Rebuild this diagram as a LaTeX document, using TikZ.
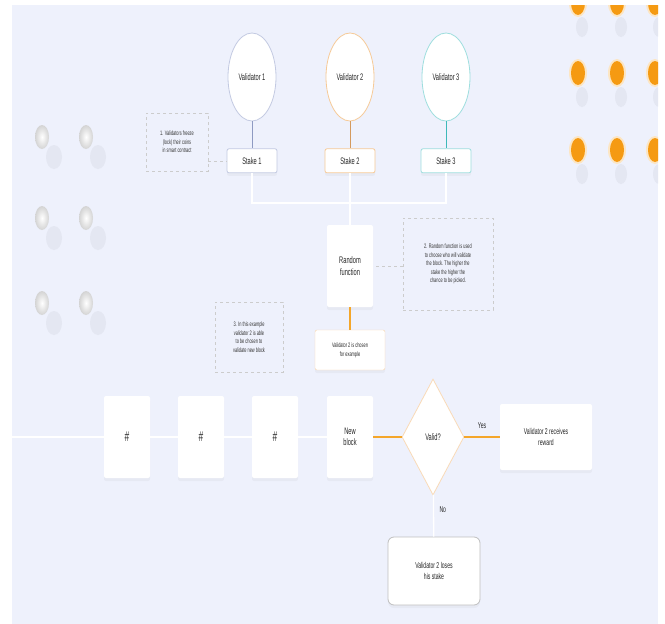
\documentclass[tikz,border=0pt]{standalone}
\usepackage{fontspec}
\setmainfont{Liberation Sans}[FakeStretch=0.6]
\setsansfont{Liberation Sans}[FakeStretch=0.6]
\usetikzlibrary{arrows,shapes,positioning,shadows}
\definecolor{bgcol}{HTML}{EEF1FC}
\definecolor{gold}{HTML}{F4A62A}
\definecolor{dotcol}{HTML}{F59A12}
\definecolor{vone}{HTML}{C3CAE2}
\definecolor{vtwo}{HTML}{F6CA98}
\definecolor{vthree}{HTML}{9EDEDE}
\definecolor{lone}{HTML}{8E9AC2}
\definecolor{ltwo}{HTML}{D49A5E}
\definecolor{lthree}{HTML}{3DB9B9}
\colorlet{dotshadow}{bgcol!96!black}
\tikzset{
  basic/.style    = {font=\sffamily\fontsize{9.5}{11.5}\selectfont, align=center,
                     fill=white, text=black!85},
  soft/.style     = {drop shadow={opacity=0.07, shadow xshift=0pt, shadow yshift=-3pt}},
  validator/.style = {basic, ellipse, draw=#1, line width=0.8pt, inner sep=0pt,
                     minimum width=48pt, minimum height=88pt},
  stakebox/.style = {basic, rectangle, draw=#1, line width=0.8pt, rounded corners=2pt,
                     minimum width=50pt, minimum height=24pt, soft},
  block/.style    = {basic, rectangle, rounded corners=2pt, minimum width=46pt,
                     minimum height=82pt, soft},
  note/.style     = {draw=gray!40, dashed, align=center, inner sep=2pt,
                     font=\sffamily\fontsize{6.5}{8.5}\selectfont, text=black!80},
  wire/.style     = {draw=white, line width=1.3pt},
  goldline/.style = {draw=gold, line width=2.6pt},
}

\begin{document}
\begin{tikzpicture}[x=1pt, y=1pt, >=latex]

\useasboundingbox (0,0) rectangle (665,-624);
\fill[white] (0,0) rectangle (665,-624);
\fill[bgcol] (12,-5) rectangle (658,-624);

% background dots
\begin{scope}
\clip (12,-5) rectangle (658,-624);
\foreach \xx in {42,86}
  \foreach \yy in {137,218,303} {
    \fill[dotshadow] (\xx+12,-\yy-20) ellipse (8 and 12);
    \shade[inner color=white, outer color=black!17] (\xx,-\yy) ellipse (7 and 12);
  }
\foreach \xx in {578,617,655}
  \foreach \yy in {3,73,150} {
    \fill[dotshadow] (\xx+4,-\yy-24) ellipse (6 and 10);
    \fill[dotcol!25] (\xx,-\yy) ellipse (9 and 14);
    \fill[dotcol] (\xx,-\yy) ellipse (7 and 12);
  }
\end{scope}

% validators and their stakes
\node[validator=vone]   (v1) at (252,-77) {Validator 1};
\node[validator=vtwo]   (v2) at (350,-77) {Validator 2};
\node[validator=vthree] (v3) at (446,-77) {Validator 3};
\node[stakebox=vone,      below=27pt of v1] (s1) {Stake 1};
\node[stakebox=vtwo,      below=27pt of v2] (s2) {Stake 2};
\node[stakebox=vthree,    below=27pt of v3] (s3) {Stake 3};

\node[note, minimum width=62pt, minimum height=58pt] (n1) at (177,-142)
  {1. Validators freeze\\(lock) their coins\\in smart contract};

% random choice
\coordinate (j) at (350,-203);
\node[block, minimum height=82pt] (rf) at (350,-266) {Random\\function};
\node[note, minimum width=90pt, minimum height=92pt] (n2) at (448,-264)
  {2. Random function is used\\to choose who will validate\\the block. The higher the\\stake the higher the\\chance to be picked.};
\node[basic, draw=vtwo!80, rounded corners=2pt, minimum width=70pt, minimum height=40pt,
      font=\sffamily\fontsize{6.5}{9}\selectfont, soft] (ch) at (350,-350)
  {Validator 2 is chosen\\for example};
\node[note, minimum width=68pt, minimum height=70pt] (n3) at (249,-337)
  {3. In this example\\validator 2 is able\\to be chosen to\\validate new block};

% chain
\coordinate (lft) at (12,-437);
\node[block, font=\sffamily\fontsize{14}{14}\selectfont] (b1) at (127,-437) {\#};
\node[block, font=\sffamily\fontsize{14}{14}\selectfont] (b2) at (201,-437) {\#};
\node[block, font=\sffamily\fontsize{14}{14}\selectfont] (b3) at (275,-437) {\#};
\node[block] (nb) at (350,-437) {New\\block};
\node[basic, diamond, draw=vtwo!70, line width=0.8pt, inner sep=0pt,
      minimum width=62pt, minimum height=116pt] (vd) at (433,-437) {Valid?};
\node[basic, rectangle, rounded corners=2pt, minimum width=92pt, minimum height=66pt,
      font=\sffamily\fontsize{8.5}{11}\selectfont, soft] (rw) at (546,-437)
  {Validator 2 receives\\reward};
\node[basic, rectangle, draw=black!25, line width=0.8pt, rounded corners=6pt,
      minimum width=92pt, minimum height=68pt,
      font=\sffamily\fontsize{8.5}{11}\selectfont, soft] (ls) at (434,-571)
  {Validator 2 loses\\his stake};

\foreach \value/\col in {1/lone,2/ltwo,3/lthree}
  \draw[\col, line width=0.8pt] (v\value) -- (s\value);

\draw[wire] (s1) |- (j) -| (s3);
\draw[wire] (s2) -- (rf);
\draw[goldline, line width=1.4pt] (rf) -- (ch);
\draw[gray!40, dashed] (n2.west |- rf.east) -- (rf.east);
\draw[gray!40, dashed] (n1.east |- s1.west) -- (s1.west);

\draw[wire] (lft) -- (b1);
\draw[wire] (b1) -- (b2);
\draw[wire] (b2) -- (b3);
\draw[wire] (b3) -- (nb);
\draw[goldline] (nb) -- (vd);
\draw[goldline] (vd) -- node[above, yshift=4pt, font=\sffamily\fontsize{8.5}{8.5}\selectfont, text=black!85] {Yes} (rw);
\draw[wire] (vd) -- node[right, pos=0.35, xshift=2pt, font=\sffamily\fontsize{8.5}{8.5}\selectfont, text=black!85] {No} (ls);

\end{tikzpicture}
\end{document}
